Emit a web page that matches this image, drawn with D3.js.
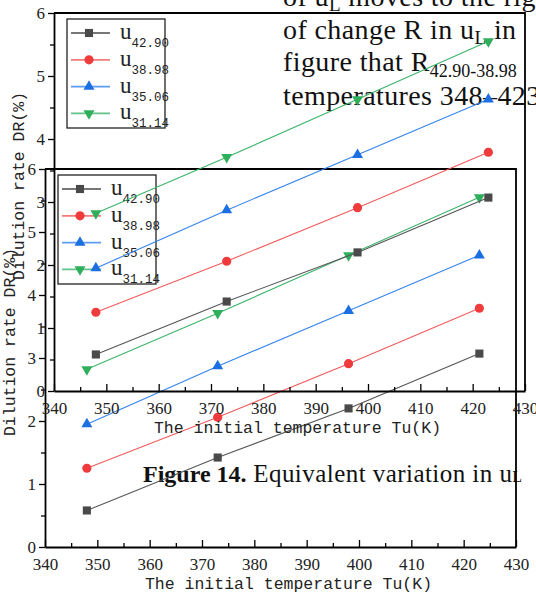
<!DOCTYPE html>
<html>
<head>
<meta charset="utf-8">
<script src="https://cdn.jsdelivr.net/npm/d3@7"></script>
<style>
body { margin: 0; background: #fff; }
svg { display: block; }
</style>
</head>
<body>
<svg id="fig" width="536" height="594"></svg>
<script>
// values (same data in both overlapping copies)
var temps = [348, 373, 398, 423];
var seriesNames = ["42.90", "38.98", "35.06", "31.14"];
var dr4290 = [0.58, 1.42, 2.20, 3.07];
var dr3898 = [1.25, 2.06, 2.91, 3.79];
var dr3506 = [1.95, 2.87, 3.75, 4.63];
var dr3114 = [2.82, 3.71, 4.63, 5.55];
var xTicks = [340, 350, 360, 370, 380, 390, 400, 410, 420, 430];
var xMinor = [345, 355, 365, 375, 385, 395, 405, 415, 425];
var yTicks = [0, 1, 2, 3, 4, 5, 6];
var yMinor = [0.5, 1.5, 2.5, 3.5, 4.5, 5.5];

var markColors = ["#4a4a4a", "#ef3b3b", "#1c6fe2", "#2fae5c"];
var lineColors = ["#555555", "#f25a5a", "#3583ec", "#3cb46a"];
var allSeries = [dr4290, dr3898, dr3506, dr3114];

var PW = 471, PH = 378;
var svg = d3.select("#fig");
var axisFont = "Liberation Serif, serif";
var monoFont = "Liberation Mono, monospace";

function symbolFor(i) {
    if (i == 0) return d3.symbol().type(d3.symbolSquare).size(66)();
    if (i == 1) return d3.symbol().type(d3.symbolCircle).size(66)();
    return d3.symbol().type(d3.symbolTriangle).size(52)();
}

// background text of the page
function drawPageText() {
    var t = svg.append("g").style("font-family", "Liberation Serif, serif").attr("fill", "#111");
    var para = t.append("g").style("font-size", "28px").style("letter-spacing", "0.4px");
    var l1 = para.append("text").attr("x", 283).attr("y", 6);
    l1.append("tspan").text("of u");
    l1.append("tspan").style("font-size", "19px").attr("dy", 5).text("L");
    l1.append("tspan").attr("dy", -5).text(" moves to the right");
    var l2 = para.append("text").attr("x", 283).attr("y", 39);
    l2.append("tspan").text("of change R in u");
    l2.append("tspan").style("font-size", "19px").attr("dy", 5).text("L");
    l2.append("tspan").attr("dy", -5).text("  in");
    var l3 = para.append("text").attr("x", 283).attr("y", 71);
    l3.append("tspan").text("figure that R");
    l3.append("tspan").style("font-size", "18px").style("letter-spacing", "0px").attr("dy", 6).text("42.90-38.98");
    para.append("text").attr("x", 283).attr("y", 105).text("temperatures 348\u2013423");

    var cap = t.append("text").attr("x", 143).attr("y", 482).style("font-size", "24px");
    cap.append("tspan").style("font-weight", "bold").text("Figure 14.");
    cap.append("tspan").style("font-size", "25px").style("letter-spacing", "0.45px").text(" Equivalent variation in u");
    cap.append("tspan").style("font-size", "16px").text("L");
}

function drawPanel(ox, oy) {
    var g = svg.append("g").attr("transform", "translate(" + ox + "," + oy + ")");
    var x = d3.scaleLinear().domain([340, 430]).range([0, PW]);
    var y = d3.scaleLinear().domain([0, 6]).range([PH, 0]);

    // minor ticks
    g.append("g").attr("class", "minor").attr("transform", "translate(0," + PH + ")")
        .call(d3.axisBottom(x).tickValues(xMinor).tickSize(-4).tickSizeOuter(0).tickFormat(""));
    g.append("g").attr("class", "minor")
        .call(d3.axisLeft(y).tickValues(yMinor).tickSize(4).tickSizeOuter(0).tickFormat(""));
    g.selectAll(".minor .domain").remove();

    var xa = g.append("g").attr("transform", "translate(0," + PH + ")")
        .call(d3.axisBottom(x).tickValues(xTicks).tickSize(-7).tickSizeOuter(0).tickPadding(11).tickFormat(d3.format("d")));
    var ya = g.append("g")
        .call(d3.axisLeft(y).tickValues(yTicks).tickSize(6).tickSizeOuter(0).tickPadding(3).tickFormat(d3.format("d")));
    [xa, ya].forEach(function(a) {
        a.attr("font-family", null).attr("font-size", null);
        a.select(".domain").attr("stroke", "#000").attr("stroke-width", 1.8);
        a.selectAll("text").style("font-family", axisFont).style("font-size", "17px").attr("fill", "#222");
    });
    g.selectAll(".tick line").attr("stroke", "#000").attr("stroke-width", 1.3);

    // frame top and right
    g.append("path").attr("d", "M0,0H" + PW + "V" + PH)
        .attr("fill", "none").attr("stroke", "#000").attr("stroke-width", 1.8);

    // titles
    g.append("text").attr("x", PW / 2 + 8).attr("y", PH + 42)
        .attr("text-anchor", "middle").style("font-family", monoFont).style("font-size", "16.5px").attr("fill", "#222")
        .text("The initial temperature Tu(K)");
    g.append("text").attr("transform", "translate(" + (-30) + "," + (PH / 2 - 16) + ") rotate(-90)")
        .attr("text-anchor", "middle").style("font-family", monoFont).style("font-size", "16.5px").attr("fill", "#222")
        .text("Dilution rate DR(%)");

    // series
    var line = d3.line().x(function(d, i) { return x(temps[i]); }).y(function(d) { return y(d); });
    allSeries.forEach(function(vals, si) {
        g.append("path").datum(vals).attr("d", line)
            .attr("fill", "none").attr("stroke", lineColors[si]).attr("stroke-width", 1.1);
        g.selectAll(".pt" + si).data(vals).enter().append("path")
            .attr("d", symbolFor(si))
            .attr("transform", function(d, i) {
                return "translate(" + x(temps[i]) + "," + y(d) + ")" + (si == 3 ? " rotate(180)" : "");
            })
            .attr("fill", markColors[si]);
    });

    // legend
    var lg = g.append("g").attr("transform", "translate(13,6)");
    lg.append("rect").attr("width", 98).attr("height", 109)
        .attr("fill", "none").attr("stroke", "#222").attr("stroke-width", 1.3);
    seriesNames.forEach(function(nm, si) {
        var ry = 14 + si * 26.8;
        lg.append("line").attr("x1", 4).attr("x2", 43).attr("y1", ry).attr("y2", ry)
            .attr("stroke", lineColors[si]).attr("stroke-width", 1.8).attr("stroke-opacity", 0.8);
        lg.append("path").attr("d", symbolFor(si))
            .attr("transform", "translate(22," + ry + ")" + (si == 3 ? " rotate(180)" : ""))
            .attr("fill", markColors[si]);
        var tx = lg.append("text").attr("x", 53).attr("y", ry + 6).attr("fill", "#222");
        tx.append("tspan").style("font-family", axisFont).style("font-size", "23px").text("u");
        tx.append("tspan").style("font-family", monoFont).style("font-size", "12.5px").attr("dy", 8).text(nm);
    });
}

drawPageText();
drawPanel(45, 169);
drawPanel(54, 13);
</script>
</body>
</html>
